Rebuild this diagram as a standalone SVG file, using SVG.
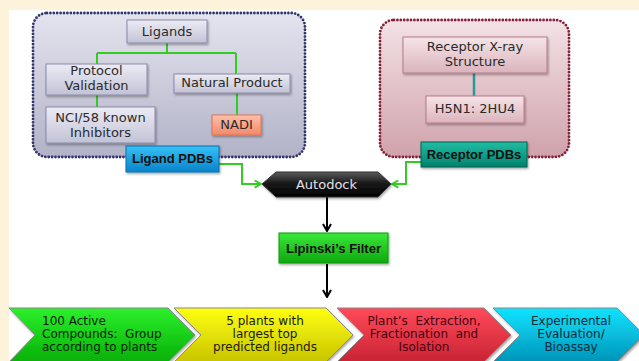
<svg xmlns="http://www.w3.org/2000/svg" width="639" height="361" viewBox="0 0 639 361">
<defs>
<style>
.t{font-family:"DejaVu Sans","Liberation Sans",sans-serif;font-size:13px;fill:#2a2a2a;text-anchor:middle}
.b{font-family:"Liberation Sans",Arial,sans-serif;font-size:13px;font-weight:bold;fill:#111;text-anchor:middle}
.c{font-family:"DejaVu Sans","Liberation Sans",sans-serif;font-size:12px;text-anchor:middle;white-space:pre}
.lav{fill:url(#gLav);stroke:#8a8aa8;stroke-width:1}
.pink{fill:url(#gPink);stroke:#b87a88;stroke-width:1}
.gl{fill:none;stroke:#33cc22;stroke-width:2}
.ch{stroke:#8a8a8a;stroke-width:1}
</style>
<linearGradient id="gLav" x1="0" y1="0" x2="0" y2="1"><stop offset="0" stop-color="#ececf5"/><stop offset="1" stop-color="#c2c2d6"/></linearGradient>
<linearGradient id="gPink" x1="0" y1="0" x2="0" y2="1"><stop offset="0" stop-color="#f5e4e8"/><stop offset="1" stop-color="#dbb4bc"/></linearGradient>
<linearGradient id="gGrpL" x1="0" y1="0" x2="0" y2="1"><stop offset="0" stop-color="#e4e4ef"/><stop offset="1" stop-color="#b2b2c8"/></linearGradient>
<linearGradient id="gGrpR" x1="0" y1="0" x2="0" y2="1"><stop offset="0" stop-color="#f3e2e6"/><stop offset="1" stop-color="#d0a2ab"/></linearGradient>
<linearGradient id="gNadi" x1="0" y1="0" x2="0" y2="1"><stop offset="0" stop-color="#ffc0a8"/><stop offset="1" stop-color="#f2886a"/></linearGradient>
<linearGradient id="gBlue" x1="0" y1="0" x2="0" y2="1"><stop offset="0" stop-color="#38c0f4"/><stop offset="1" stop-color="#0884cc"/></linearGradient>
<linearGradient id="gTeal" x1="0" y1="0" x2="0" y2="1"><stop offset="0" stop-color="#22bca4"/><stop offset="1" stop-color="#00826c"/></linearGradient>
<linearGradient id="gLip" x1="0" y1="0" x2="0" y2="1"><stop offset="0" stop-color="#3ae83a"/><stop offset="1" stop-color="#0ea80e"/></linearGradient>
<linearGradient id="gHex" x1="0" y1="0" x2="0" y2="1"><stop offset="0" stop-color="#5a5a5a"/><stop offset="0.45" stop-color="#1a1a1a"/><stop offset="1" stop-color="#000"/></linearGradient>
<linearGradient id="gC1" x1="0" y1="0" x2="0" y2="1"><stop offset="0" stop-color="#2cf02c"/><stop offset="1" stop-color="#06b006"/></linearGradient>
<linearGradient id="gC2" x1="0" y1="0" x2="0" y2="1"><stop offset="0" stop-color="#ffff10"/><stop offset="1" stop-color="#c8c400"/></linearGradient>
<linearGradient id="gC3" x1="0" y1="0" x2="0" y2="1"><stop offset="0" stop-color="#ff4a5a"/><stop offset="1" stop-color="#c82434"/></linearGradient>
<linearGradient id="gC4" x1="0" y1="0" x2="0" y2="1"><stop offset="0" stop-color="#10e4ff"/><stop offset="1" stop-color="#0094b8"/></linearGradient>
<filter id="sh" x="-10%" y="-20%" width="130%" height="150%"><feDropShadow dx="1" dy="1.5" stdDeviation="1" flood-color="#000" flood-opacity="0.35"/></filter>
<marker id="ag" viewBox="0 0 10 10" refX="9" refY="5" markerWidth="9" markerHeight="9" markerUnits="userSpaceOnUse" orient="auto"><path d="M2,1 L9,5 L2,9" fill="none" stroke="#33cc22" stroke-width="2"/></marker>
<marker id="ab" viewBox="0 0 10 10" refX="9" refY="5" markerWidth="10" markerHeight="10" markerUnits="userSpaceOnUse" orient="auto"><path d="M2,1 L9,5 L2,9" fill="none" stroke="#000" stroke-width="2"/></marker>
</defs>
<rect x="0" y="0" width="639" height="361" fill="#fdf3da"/>
<rect x="9" y="10" width="630" height="351" fill="#fff"/>

<g id="ligand-group">
<rect x="33" y="13" width="272" height="144" rx="14" fill="url(#gGrpL)" stroke="#34346c" stroke-width="2.8" stroke-dasharray="0 3.4" stroke-linecap="round"/>
</g>
<g id="receptor-group">
<rect x="380" y="20" width="189" height="137" rx="14" fill="url(#gGrpR)" stroke="#862036" stroke-width="2.8" stroke-dasharray="0 3.4" stroke-linecap="round"/>
</g>

<g id="connectors">
<path class="gl" d="M167,43 V53 M97,53 H236 M97,53 V64 M236,53 V74 M97,95 V107 M237,92 V115"/>
<path d="M474,73 V96" stroke="#2a9a94" stroke-width="2.5" fill="none"/>
<path class="gl" d="M219,164 H242 V184 H261" marker-end="url(#ag)"/>
<path class="gl" d="M421,162 H406 V184 H392" marker-end="url(#ag)"/>
<path d="M327,197 V231" stroke="#000" stroke-width="2" fill="none" marker-end="url(#ab)"/>
<path d="M327,264 V297" stroke="#000" stroke-width="2" fill="none" marker-end="url(#ab)"/>
</g>

<g id="ligands"><rect class="lav" x="127" y="20" width="80" height="23" filter="url(#sh)"/><text class="t" x="167" y="36">Ligands</text></g>
<g id="protocol"><rect class="lav" x="46" y="64" width="101" height="31" filter="url(#sh)"/><text class="t" x="96.5" y="75">Protocol</text><text class="t" x="96.5" y="90">Validation</text></g>
<g id="nci"><rect class="lav" x="46" y="107" width="109" height="36" filter="url(#sh)"/><text class="t" x="100.5" y="122">NCI/58 known</text><text class="t" x="100.5" y="137">Inhibitors</text></g>
<g id="natural"><rect class="lav" x="174" y="74" width="116" height="19" filter="url(#sh)"/><text class="t" x="232" y="87">Natural Product</text></g>
<g id="nadi"><rect x="212" y="115" width="49" height="20" fill="url(#gNadi)" stroke="#e07454" stroke-width="1" filter="url(#sh)"/><text class="t" x="236.5" y="129">NADI</text></g>
<g id="ligand-pdbs"><rect x="126" y="146" width="93" height="26" fill="url(#gBlue)" stroke="#0870b0" stroke-width="1" filter="url(#sh)"/><text class="b" x="172.5" y="163">Ligand PDBs</text></g>

<g id="xray"><rect class="pink" x="403" y="37" width="144" height="36" filter="url(#sh)"/><text class="t" x="475" y="51">Receptor X-ray</text><text class="t" x="475" y="66">Structure</text></g>
<g id="h5n1"><rect class="pink" x="426" y="96" width="98" height="27" filter="url(#sh)"/><text class="t" x="475" y="113">H5N1: 2HU4</text></g>
<g id="receptor-pdbs"><rect x="421" y="142" width="106" height="25" fill="url(#gTeal)" stroke="#006050" stroke-width="1" filter="url(#sh)"/><text class="b" x="474" y="159">Receptor PDBs</text></g>

<g id="autodock"><polygon points="262,184 276,172 378,172 391,184 378,197 276,197" fill="url(#gHex)" stroke="#333" stroke-width="1" filter="url(#sh)"/><text class="t" x="326.5" y="189" style="fill:#e2e2e2">Autodock</text></g>
<g id="lipinski"><rect x="279" y="233" width="109" height="30" fill="url(#gLip)" stroke="#0c9a0c" stroke-width="1" filter="url(#sh)"/><text class="b" x="333.5" y="253">Lipinski’s Filter</text></g>

<g id="step1"><polygon class="ch" points="9,308 168,308 195,335 168,362 9,362 35,335" fill="url(#gC1)" filter="url(#sh)"/>
<text class="c" style="text-anchor:start;fill:#0a1a0a" x="42" y="325">100 Active</text><text class="c" style="text-anchor:start;fill:#0a1a0a" x="42" y="338">Compounds:  Group</text><text class="c" style="text-anchor:start;fill:#0a1a0a" x="42" y="351">according to plants</text></g>
<g id="step2"><polygon class="ch" points="174,308 326,308 353,335 326,362 174,362 201,335" fill="url(#gC2)" filter="url(#sh)"/>
<text class="c" style="fill:#1a1a0a" x="265" y="325">5 plants with</text><text class="c" style="fill:#1a1a0a" x="265" y="338">largest top</text><text class="c" style="fill:#1a1a0a" x="265" y="351">predicted ligands</text></g>
<g id="step3"><polygon class="ch" points="337,308 484,308 511,335 484,362 337,362 364,335" fill="url(#gC3)" filter="url(#sh)"/>
<text class="c" style="fill:#4a0010" x="424" y="325">Plant’s  Extraction,</text><text class="c" style="fill:#4a0010" x="424" y="338">Fractionation  and</text><text class="c" style="fill:#4a0010" x="424" y="351">Isolation</text></g>
<g id="step4"><polygon class="ch" points="493,308 617,308 644,335 617,362 493,362 520,335" fill="url(#gC4)" filter="url(#sh)"/>
<text class="c" style="fill:#0a2a3a" x="571" y="325">Experimental</text><text class="c" style="fill:#0a2a3a" x="571" y="338">Evaluation/</text><text class="c" style="fill:#0a2a3a" x="571" y="351">Bioassay</text></g>
</svg>
